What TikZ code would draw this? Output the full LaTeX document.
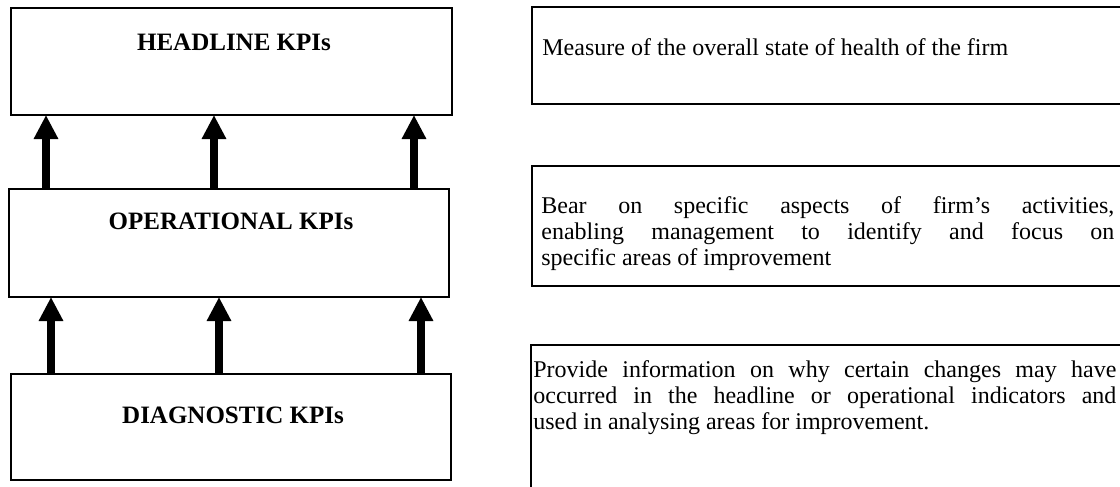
\documentclass[tikz,border=0pt]{standalone}
\usepackage{fontspec}
\setmainfont{Liberation Serif}
\usetikzlibrary{arrows.meta,calc}
\begin{document}
\begin{tikzpicture}[x=0.5pt,y=-0.5pt,
  kpibox/.style={draw, line width=0.9pt, anchor=north west, inner sep=0pt, outer sep=0pt},
  kpititle/.style={font=\fontsize{12.5}{14}\selectfont\bfseries, inner sep=0pt, anchor=base},
  desc/.style={font=\fontsize{12}{13}\selectfont, inner sep=0pt, anchor=north west, align=justify},
  uparrow/.style={line width=3.6pt, -{Triangle[width=11.5pt,length=12pt]}}
]
\useasboundingbox (0,0) rectangle (1120,487);
\clip (0,0) rectangle (1120,487);
% left column
\node[kpibox, minimum width=220.5pt, minimum height=53.5pt] (head) at (11,8) {};
\node[kpibox, minimum width=220pt, minimum height=54pt] (op) at (9,189) {};
\node[kpibox, minimum width=220pt, minimum height=53pt] (diag) at (11,374) {};
\node[kpititle] (headt) at (234,50) {HEADLINE KPIs};
\node[kpititle] (opt) at (231,229) {OPERATIONAL KPIs};
\node[kpititle] (diagt) at (233,423) {DIAGNOSTIC KPIs};
% arrows
\draw[uparrow] ($(op.north west)+(37,0)$) -- ($(head.south west)+(35,0)$);
\draw[uparrow] ($(op.north west)+(205,0)$) -- ($(head.south west)+(203,0)$);
\draw[uparrow] ($(op.north west)+(405,0)$) -- ($(head.south west)+(403,0)$);
\draw[uparrow] ($(diag.north west)+(40,0)$) -- ($(op.south west)+(42,0)$);
\draw[uparrow] ($(diag.north west)+(208,0)$) -- ($(op.south west)+(210,0)$);
\draw[uparrow] ($(diag.north west)+(410,0)$) -- ($(op.south west)+(412,0)$);
% right column
\node[kpibox, minimum width=299pt, minimum height=48.5pt] (r1) at (532,7) {};
\node[kpibox, minimum width=299pt, minimum height=60pt] (r2) at (532,166) {};
\node[kpibox, minimum width=299pt, minimum height=77.5pt] (r3) at (531,345) {};
\node[desc, anchor=base west] (t1) at (542,55) {Measure of the overall state of health of the firm};
\node[desc, text width=286.5pt] (t2) at (541,196) {Bear on specific aspects of firm’s activities,\linebreak enabling management to identify and focus on\linebreak specific areas of improvement};
\node[desc, text width=291.5pt] (t3) at (533,360) {Provide information on why certain changes may have\linebreak occurred in the headline or operational indicators and\linebreak used in analysing areas for improvement.};
\end{tikzpicture}
\end{document}
